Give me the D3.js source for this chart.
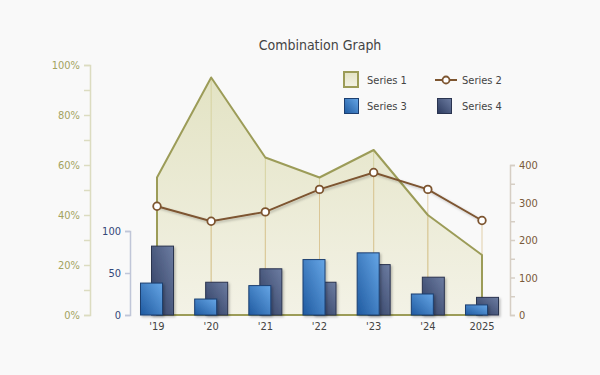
<!DOCTYPE html>
<html>
<head>
<meta charset="utf-8">
<script src="https://cdn.jsdelivr.net/npm/d3@7"></script>
<style>
  body { margin: 0; background: #f9f9f9; }
  svg { display: block; font-family: "DejaVu Sans Condensed", "DejaVu Sans", sans-serif; }
</style>
</head>
<body>
<div id="chart"></div>
<script>
var categories = ["'19", "'20", "'21", "'22", "'23", "'24", "2025"];
var series1 = [55, 95, 63, 55, 66, 40, 24];          // area, percent axis
var series2 = [290, 250, 275, 335, 380, 335, 252];   // line, right axis
var series3 = [38, 19, 35, 66, 74, 25, 12];          // bars, small axis
var series4 = [82, 39, 55, 39, 60, 45, 21];
var pctTicks = [0, 20, 40, 60, 80, 100];
var rightTicks = [0, 100, 200, 300, 400];
var barTicks = [0, 50, 100];

var W = 600, H = 375;
var FONT = "DejaVu Sans Condensed";
var svg = d3.select("#chart").append("svg").attr("width", W).attr("height", H);

var defs = svg.append("defs");
var g1 = defs.append("linearGradient").attr("id", "areaFill").attr("x1", 0).attr("y1", 0).attr("x2", 0).attr("y2", 1);
g1.append("stop").attr("offset", "0%").attr("stop-color", "#e3e3c4");
g1.append("stop").attr("offset", "100%").attr("stop-color", "#f3f2e6");
var g3 = defs.append("linearGradient").attr("id", "bar3").attr("x1", 0).attr("y1", 1).attr("x2", 1).attr("y2", 0);
g3.append("stop").attr("offset", "0%").attr("stop-color", "#1f5aa0");
g3.append("stop").attr("offset", "100%").attr("stop-color", "#66a6e6");
var g4 = defs.append("linearGradient").attr("id", "bar4").attr("x1", 0).attr("y1", 1).attr("x2", 1).attr("y2", 0);
g4.append("stop").attr("offset", "0%").attr("stop-color", "#2c3a5e");
g4.append("stop").attr("offset", "100%").attr("stop-color", "#6d7da2");
var sh = defs.append("filter").attr("id", "shadow").attr("x", "-20%").attr("y", "-20%").attr("width", "150%").attr("height", "150%");
sh.append("feDropShadow").attr("dx", 1.5).attr("dy", 1.5).attr("stdDeviation", 1.2).attr("flood-color", "#000").attr("flood-opacity", 0.25);

var x = d3.scalePoint().domain(categories).range([157, 482]);
var yPct = d3.scaleLinear().domain([0, 100]).range([315, 65]);
var yRight = d3.scaleLinear().domain([0, 400]).range([315, 165]);
var yBar = d3.scaleLinear().domain([0, 100]).range([315, 231]);

// title
svg.append("text").attr("x", 320).attr("y", 50).attr("text-anchor", "middle")
  .attr("font-size", 14).attr("fill", "#444").text("Combination Graph");

// left percent axis
var leftAxis = svg.append("g").attr("transform", "translate(90,0)")
  .call(d3.axisLeft(yPct).tickValues(d3.range(0, 101, 10)).tickSize(6).tickPadding(4)
    .tickFormat(function (d) { return pctTicks.indexOf(d) >= 0 ? d + "%" : ""; }));
leftAxis.select(".domain").attr("stroke", "#dcdcc0").attr("stroke-width", 1.5);
leftAxis.selectAll(".tick line").attr("stroke", "#dcdcc0").attr("stroke-width", 1.5);
leftAxis.selectAll("text").attr("fill", "#a3a35e").attr("font-size", 11).attr("font-family", FONT);

// right axis
var rightAxis = svg.append("g").attr("transform", "translate(510,0)")
  .call(d3.axisRight(yRight).tickValues(d3.range(0, 401, 50)).tickSize(5).tickPadding(4)
    .tickFormat(function (d) { return rightTicks.indexOf(d) >= 0 ? d : ""; }));
rightAxis.select(".domain").attr("stroke", "#d6cec4").attr("stroke-width", 1.5);
rightAxis.selectAll(".tick line").attr("stroke", "#d6cec4").attr("stroke-width", 1.5);
rightAxis.selectAll("text").attr("fill", "#7a5a3a").attr("font-size", 11).attr("font-family", FONT);

// area and drop lines
var plot = svg.append("g");
var area = d3.area().x(function (d, i) { return x(categories[i]); })
  .y0(yPct(0)).y1(function (d) { return yPct(d); });
plot.append("path").datum(series1).attr("d", area)
  .attr("fill", "url(#areaFill)");
plot.selectAll(".drop1").data(categories).enter().append("line")
  .attr("x1", function (d) { return x(d); }).attr("x2", function (d) { return x(d); })
  .attr("y1", yPct(0)).attr("y2", function (d, i) { return yPct(series1[i]); })
  .attr("stroke", "#d6d2a0").attr("stroke-width", 1);
plot.selectAll(".drop2").data(categories).enter().append("line")
  .attr("x1", function (d) { return x(d); }).attr("x2", function (d) { return x(d); })
  .attr("y1", yPct(0)).attr("y2", function (d, i) { return yRight(series2[i]); })
  .attr("stroke", "#dcc496").attr("stroke-width", 1).attr("opacity", 0.8);
plot.append("path").datum(series1).attr("d", area)
  .attr("fill", "none").attr("stroke", "#9c9c58").attr("stroke-width", 2)
  .attr("stroke-linejoin", "round");

// bar axis
var barAxis = svg.append("g").attr("transform", "translate(130,0)")
  .call(d3.axisLeft(yBar).tickValues(barTicks).tickSize(5).tickPadding(4));
barAxis.select(".domain").attr("stroke", "#c0c6d8").attr("stroke-width", 1.5);
barAxis.selectAll(".tick line").attr("stroke", "#c0c6d8").attr("stroke-width", 1.5);
barAxis.selectAll("text").attr("fill", "#34477a").attr("font-size", 11).attr("font-family", FONT);

// bars: series 4 behind, series 3 in front
var bw = 22;
plot.selectAll(".b4").data(series4).enter().append("rect")
  .attr("x", function (d, i) { return x(categories[i]) - 5.5; })
  .attr("y", function (d) { return yBar(d); })
  .attr("width", bw).attr("height", function (d) { return yBar(0) - yBar(d); })
  .attr("fill", "url(#bar4)").attr("stroke", "#2a3450").attr("stroke-width", 1)
  .attr("filter", "url(#shadow)");
plot.selectAll(".b3").data(series3).enter().append("rect")
  .attr("x", function (d, i) { return x(categories[i]) - 16.5; })
  .attr("y", function (d) { return yBar(d); })
  .attr("width", bw).attr("height", function (d) { return yBar(0) - yBar(d); })
  .attr("fill", "url(#bar3)").attr("stroke", "#1d3f70").attr("stroke-width", 1)
  .attr("filter", "url(#shadow)");

// line series 2
var line = d3.line().x(function (d, i) { return x(categories[i]); }).y(function (d) { return yRight(d); });
plot.append("path").datum(series2).attr("d", line)
  .attr("fill", "none").attr("stroke", "#7d5530").attr("stroke-width", 2)
  .attr("filter", "url(#shadow)");
plot.selectAll(".pt").data(series2).enter().append("circle")
  .attr("cx", function (d, i) { return x(categories[i]); })
  .attr("cy", function (d) { return yRight(d); })
  .attr("r", 3.8).attr("fill", "#fff").attr("stroke", "#7d5530").attr("stroke-width", 1.8);

// x labels
svg.selectAll(".xl").data(categories).enter().append("text")
  .attr("x", function (d) { return x(d); }).attr("y", 330)
  .attr("text-anchor", "middle").attr("font-size", 11).attr("fill", "#444")
  .text(function (d) { return d; });

// legend
var lg = svg.append("g").attr("font-size", 11).attr("fill", "#444");
lg.append("rect").attr("x", 344).attr("y", 72).attr("width", 14).attr("height", 15)
  .attr("fill", "url(#areaFill)").attr("stroke", "#9c9c58").attr("stroke-width", 2);
lg.append("text").attr("x", 367).attr("y", 84).attr("fill", "#444").text("Series 1");
lg.append("line").attr("x1", 435).attr("x2", 457).attr("y1", 80).attr("y2", 80)
  .attr("stroke", "#7d5530").attr("stroke-width", 2);
lg.append("circle").attr("cx", 446).attr("cy", 80).attr("r", 3.5)
  .attr("fill", "#fff").attr("stroke", "#7d5530").attr("stroke-width", 1.8);
lg.append("text").attr("x", 462).attr("y", 84).attr("fill", "#444").text("Series 2");
lg.append("rect").attr("x", 344.5).attr("y", 98.5).attr("width", 14).attr("height", 15)
  .attr("fill", "url(#bar3)").attr("stroke", "#1d3f70").attr("stroke-width", 1);
lg.append("text").attr("x", 367).attr("y", 110).attr("fill", "#444").text("Series 3");
lg.append("rect").attr("x", 437.5).attr("y", 98.5).attr("width", 14).attr("height", 15)
  .attr("fill", "url(#bar4)").attr("stroke", "#2a3450").attr("stroke-width", 1);
lg.append("text").attr("x", 462).attr("y", 110).attr("fill", "#444").text("Series 4");
</script>
</body>
</html>
